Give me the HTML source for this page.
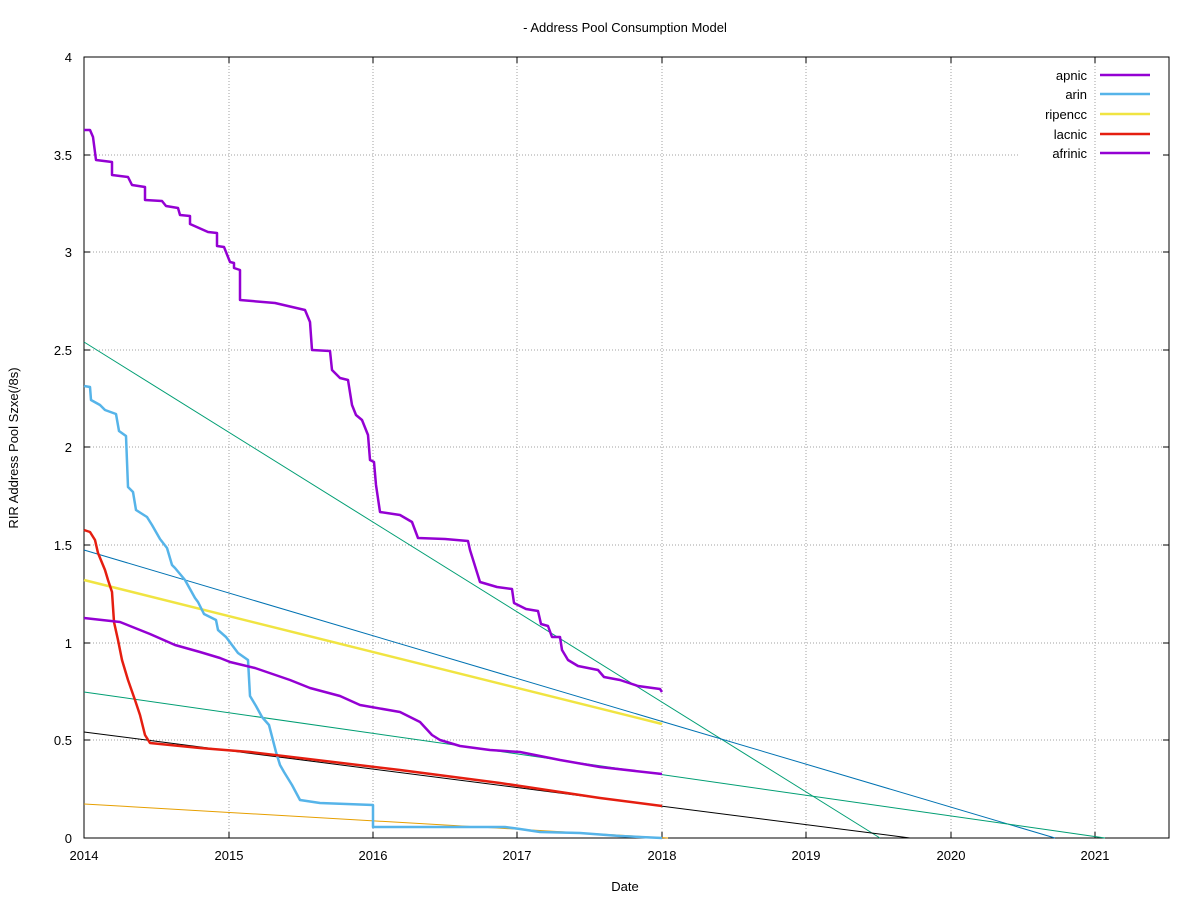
<!DOCTYPE html>
<html><head><meta charset="utf-8"><style>
body{margin:0;background:#fff;}
svg{display:block;font-family:"Liberation Sans",Arial,sans-serif;font-size:13px;}
</style></head><body>
<svg width="1200" height="900" xmlns="http://www.w3.org/2000/svg">
<rect width="1200" height="900" fill="#fff"/>
<g stroke="#a0a0a0" stroke-width="1" stroke-dasharray="1,2" fill="none">
<path d="M84 155H1020M84 252H1169M84 350H1169M84 447H1169M84 545H1169M84 643H1169M84 740H1169"/>
<path d="M229 57V838M373 57V838M517 57V838M662 57V838M806 57V838M951 57V838M1095 57V838"/>
</g>
<rect x="84" y="57" width="1085" height="781" fill="none" stroke="#000" stroke-width="1"/>
<g stroke="#000" stroke-width="1">
<path d="M84 838h6M84 740h6M84 643h6M84 545h6M84 447h6M84 350h6M84 252h6M84 155h6M84 57h6"/>
<path d="M1169 740h-6M1169 643h-6M1169 545h-6M1169 447h-6M1169 350h-6M1169 252h-6M1169 155h-6"/>
<path d="M229 838v-6M373 838v-6M517 838v-6M662 838v-6M806 838v-6M951 838v-6M1095 838v-6"/>
<path d="M229 57v6M373 57v6M517 57v6M662 57v6M806 57v6M951 57v6M1095 57v6"/>
</g>
<g text-anchor="end">
<text x="72" y="843">0</text><text x="72" y="745">0.5</text><text x="72" y="648">1</text><text x="72" y="550">1.5</text><text x="72" y="452">2</text><text x="72" y="355">2.5</text><text x="72" y="257">3</text><text x="72" y="160">3.5</text><text x="72" y="62">4</text>
</g>
<g text-anchor="middle">
<text x="84" y="860">2014</text><text x="229" y="860">2015</text><text x="373" y="860">2016</text><text x="517" y="860">2017</text><text x="662" y="860">2018</text><text x="806" y="860">2019</text><text x="951" y="860">2020</text><text x="1095" y="860">2021</text>
<text x="625" y="32">- Address Pool Consumption Model</text>
<text x="625" y="891">Date</text>
<text transform="translate(18,448) rotate(-90)">RIR Address Pool Szxe(/8s)</text>
</g>
<g fill="none" stroke-width="1">
<path d="M84 342L880 838" stroke="#009e73"/>
<path d="M84 550L1055 838" stroke="#0072b2"/>
<path d="M84 692L1105 838" stroke="#009e73"/>
<path d="M84 732L910 838" stroke="#000"/>
<path d="M84 804L668 838" stroke="#e69f00"/>
</g>
<g fill="none" stroke-width="2.5" stroke-linejoin="round">
<path stroke="#f0e442" d="M84 580L662 724"/>
<path stroke="#56b4e9" d="M84 386L90 387L91 400L100 405L105 410L116 414L119 431L126 436L128 487L133 492L136 510L147 517L152 525L160 539L167 548L172 565L175 568L185 580L195 598L198 602L204 614L216 620L218 630L226 637L232 645L238 653L248 660L250 696L256 706L262 717L269 725L276 752L280 765L284 772L292 785L300 800L320 803L373 805L373 827L413 827L505 827L520 829L540 832L580 833L620 836L662 838"/>
<path stroke="#e51e10" d="M84 530L90 532L95 540L98 553L105 570L108 580L112 592L114 622L118 640L122 660L128 680L135 700L140 715L145 735L150 743L200 748L250 752L300 758L400 770L500 783L600 798L662 806"/>
<path stroke="#9400d3" d="M84 618L120 622L150 634L175 645L200 652L220 658L230 662L255 668L290 680L310 688L340 696L360 705L400 712L420 722L432 735L440 740L460 746L490 750L520 752L560 760L600 767L662 774"/>
<path stroke="#9400d3" d="M84 130L90 130L93 137L96 160L112 162L112 175L128 177L132 185L145 187L145 200L162 201L166 206L178 208L180 215L190 216L190 224L208 232L217 233L217 246L224 247L230 262L234 263L234 268L240 270L240 300L275 303L305 310L310 322L312 350L330 351L332 370L340 378L348 380L352 405L356 415L362 420L368 435L370 460L374 462L376 485L380 512L400 515L412 522L418 538L445 539L468 541L470 550L480 582L497 587L512 589L514 603L526 609L538 611L541 624L548 626L552 637L560 637L562 650L568 660L578 666L598 670L604 677L620 680L638 686L660 689L662 692"/>
</g>
<g text-anchor="end">
<text x="1087" y="80">apnic</text><text x="1087" y="99">arin</text><text x="1087" y="119">ripencc</text><text x="1087" y="139">lacnic</text><text x="1087" y="158">afrinic</text>
</g>
<g stroke-width="2.5">
<path d="M1100 75h50" stroke="#9400d3"/><path d="M1100 94h50" stroke="#56b4e9"/><path d="M1100 114h50" stroke="#f0e442"/><path d="M1100 134h50" stroke="#e51e10"/><path d="M1100 153h50" stroke="#9400d3"/>
</g>
</svg>
</body></html>
